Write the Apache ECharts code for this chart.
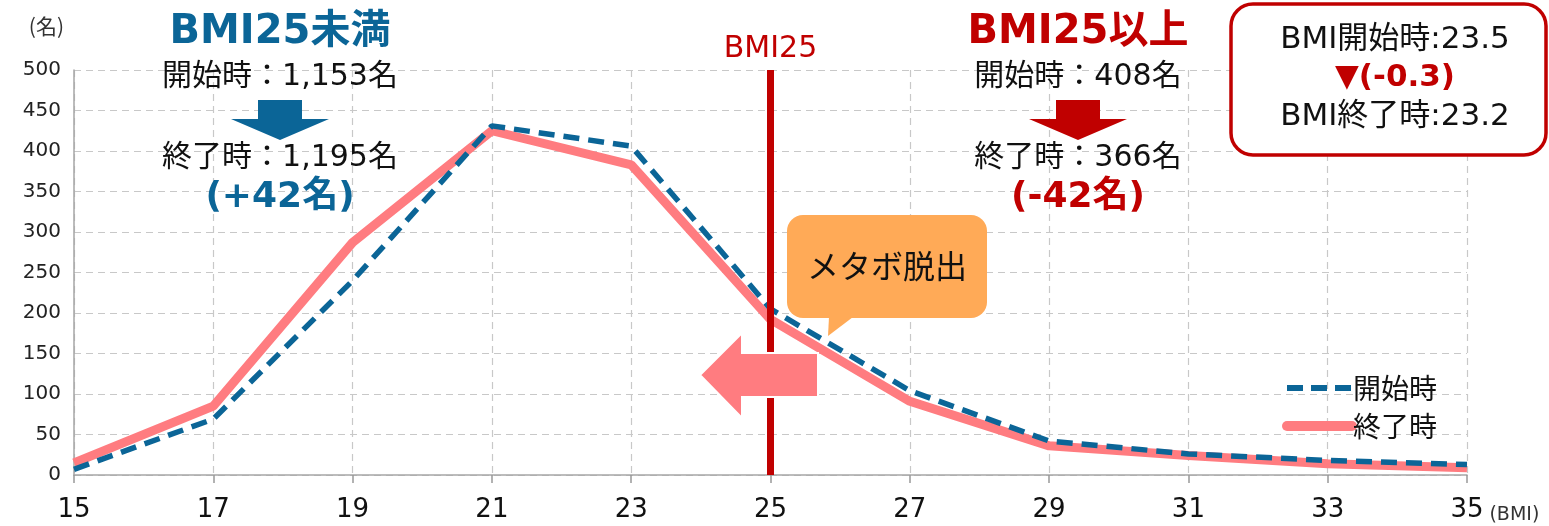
<!DOCTYPE html>
<html><head><meta charset="utf-8">
<script src="https://cdn.jsdelivr.net/npm/echarts@6/dist/echarts.min.js"></script>
<style>html,body{margin:0;padding:0;background:#fff;}#c{width:1549px;height:526px;}</style>
</head><body><div id="c"></div>
<script>
const categories = ['15','17','19','21','23','25','27','29','31','33','35'];
const startValues = [7,69,240,431,406,205,104,42,26,18,13];
const endValues = [15,85,287,425,383,192,91,36,24,14,9];
const seriesNames = ['開始時','終了時'];
const thresholdCategory = '25';

const FF = '"DejaVu Sans", "Noto Sans CJK JP", sans-serif';
const FJ = '"Noto Sans CJK JP", "DejaVu Sans", sans-serif';
const BLUE = '#0B6597';
const RED = '#C00000';
const PINK = '#FF7C80';

function txt(text, x, y, size, color, bold, fam) {
  return {type:'text', x:x, y:y, z:100, style:{text:text, fill:color,
    font:(bold?'bold ':'')+size+'px '+(fam||FF), textAlign:'center', textVerticalAlign:'middle',
    align:'center', verticalAlign:'middle'}};
}
function downArrow(cx, color) {
  return {type:'polygon', z:100, shape:{points:[[cx-22,100],[cx+22,100],[cx+22,119],[cx+49,119],[cx,140],[cx-49,119],[cx-22,119]]}, style:{fill:color}};
}

const chart = echarts.init(document.getElementById('c'));
chart.setOption({
  animation:false,
  grid:{left:74, right:82, top:70, bottom:51, containLabel:false},
  xAxis:{type:'category', data:categories, boundaryGap:false,
    axisLine:{lineStyle:{color:'#A6A6A6', width:1.5}},
    axisTick:{show:true, length:8, lineStyle:{color:'#999', width:1.5}},
    axisLabel:{color:'#111', fontSize:26, fontFamily:FF, margin:22},
    splitLine:{show:true, lineStyle:{color:'#C8C8C8', type:[7,5], width:1.2}},
    name:'(BMI)', nameLocation:'end', nameGap:6,
    nameTextStyle:{color:'#333', fontSize:19, fontFamily:FF, verticalAlign:'top', padding:[31,0,0,0]}
  },
  yAxis:{type:'value', min:0, max:500, interval:50,
    axisLine:{show:true, lineStyle:{color:'#A6A6A6', width:1.5}},
    axisTick:{show:false},
    axisLabel:{color:'#222', fontSize:20, fontFamily:FF, margin:13},
    splitLine:{show:true, lineStyle:{color:'#C8C8C8', type:[7,5], width:1.2}},
    name:'(名)', nameLocation:'end', nameGap:33,
    nameTextStyle:{color:'#333', fontSize:21, fontFamily:FJ, align:'right', padding:[0,10,0,0]}
  },
  legend:{orient:'vertical', left:1277, top:369, itemWidth:65, itemHeight:20, itemGap:10,
    textStyle:{fontSize:28, fontFamily:FJ, color:'#111', padding:[0,0,0,-4]},
    itemStyle:{opacity:0, borderWidth:0},
    data:[
      {name:seriesNames[0], itemStyle:{opacity:0, borderWidth:0}, lineStyle:{color:BLUE, width:6, type:[16,8]}},
      {name:seriesNames[1], itemStyle:{opacity:0, borderWidth:0}, lineStyle:{color:PINK, width:10, type:'solid', cap:'round'}}
    ]
  },
  series:[
    {name:seriesNames[0], type:'line', data:startValues, symbol:'none', z:3,
     lineStyle:{color:BLUE, width:5.5, type:[16,9]}, itemStyle:{color:BLUE}},
    {name:seriesNames[1], type:'line', data:endValues, symbol:'none', z:2,
     lineStyle:{color:PINK, width:9}, itemStyle:{color:PINK},
     markLine:{silent:true, symbol:'none', z:10,
       lineStyle:{color:RED, width:7, type:'solid'},
       label:{show:true, position:'end', formatter:'BMI25', color:RED, fontSize:30, fontFamily:FF, distance:6},
       data:[{xAxis:thresholdCategory}]}
    }
  ],
  graphic:[
    txt('BMI25未満', 280, 33, 40, BLUE, true),
    txt('開始時：1,153名', 280, 77, 30, '#111', false),
    downArrow(280, BLUE),
    txt('終了時：1,195名', 280, 158, 30, '#111', false),
    txt('(+42名)', 280, 198, 36, BLUE, true),

    txt('BMI25以上', 1078, 33, 40, RED, true),
    txt('開始時：408名', 1078, 77, 30, '#111', false),
    downArrow(1078, RED),
    txt('終了時：366名', 1078, 158, 30, '#111', false),
    txt('(-42名)', 1078, 198, 36, RED, true),

    {type:'rect', z:90, shape:{x:1231, y:4, width:315, height:151, r:22}, style:{fill:'#fff', stroke:RED, lineWidth:3.5}},
    txt('BMI開始時:23.5', 1395, 40, 31, '#111', false),
    txt('▼(-0.3)', 1395, 78, 31, RED, true),
    txt('BMI終了時:23.2', 1395, 117, 31, '#111', false),

    {type:'rect', z:90, shape:{x:787, y:215, width:200, height:103, r:16}, style:{fill:'#FFAA57'}},
    {type:'polygon', z:90, shape:{points:[[829,317],[853,317],[828,336]]}, style:{fill:'#FFAA57'}},
    txt('メタボ脱出', 887, 266, 32, '#111', false, FJ),

    {type:'polygon', z:95, shape:{points:[[700,375],[742,333],[742,353],[818,353],[818,397],[742,397],[742,418]]},
     style:{fill:PINK, stroke:'#fff', lineWidth:2}}
  ]
});
</script></body></html>
